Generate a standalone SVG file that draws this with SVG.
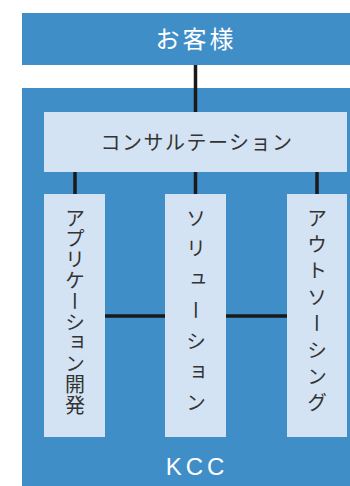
<svg xmlns="http://www.w3.org/2000/svg" width="350" height="486" viewBox="0 0 350 486">
<style>
.band{fill:#3f8ec8}
.box{fill:#d4e3f3}
.wt{fill:#ffffff;font-family:"Noto Sans CJK JP","Noto Sans",sans-serif}
.dt{fill:#333333;font-family:"Noto Sans CJK JP",sans-serif;font-size:20px}
.vt{fill:#333333;font-family:"Noto Sans CJK JP",sans-serif;font-size:20px;writing-mode:vertical-rl;text-anchor:start}
.ln{stroke:#1a1a1a;stroke-width:3.5;fill:none}
</style>
<rect width="350" height="486" fill="#ffffff"/>
<g id="customer">
<rect class="band" x="22" y="13" width="328" height="52"/>
<text class="wt" x="196" y="48" font-size="24" text-anchor="middle" letter-spacing="3">お客様</text>
</g>
<g id="kcc">
<rect class="band" x="22" y="88" width="328" height="398"/>
<text class="wt" x="197" y="475" font-size="24" text-anchor="middle" letter-spacing="4" style="font-family:'Liberation Sans',sans-serif">KCC</text>
</g>
<g id="connectors">
<line class="ln" x1="195.5" y1="65" x2="195.5" y2="112"/>
<line class="ln" x1="75" y1="172" x2="75" y2="194"/>
<line class="ln" x1="195.5" y1="172" x2="195.5" y2="194"/>
<line class="ln" x1="317" y1="172" x2="317" y2="194"/>
<line class="ln" x1="105" y1="316" x2="165" y2="316"/>
<line class="ln" x1="226" y1="316" x2="287" y2="316"/>
</g>
<g id="consultation">
<rect class="box" x="44" y="112" width="303" height="60"/>
<text class="dt" x="197" y="150" text-anchor="middle" letter-spacing="1.5">コンサルテーション</text>
</g>
<g id="app">
<rect class="box" x="44" y="194" width="61" height="243"/>
<text class="vt" x="75" y="208" letter-spacing="0.8">アプリケーション開発</text>
</g>
<g id="solution">
<rect class="box" x="165" y="194" width="61" height="243"/>
<text class="vt" x="196" y="208" letter-spacing="10.8">ソリューション</text>
</g>
<g id="outsourcing">
<rect class="box" x="287" y="194" width="60" height="243"/>
<text class="vt" x="317" y="208" letter-spacing="6.4">アウトソーシング</text>
</g>
</svg>
